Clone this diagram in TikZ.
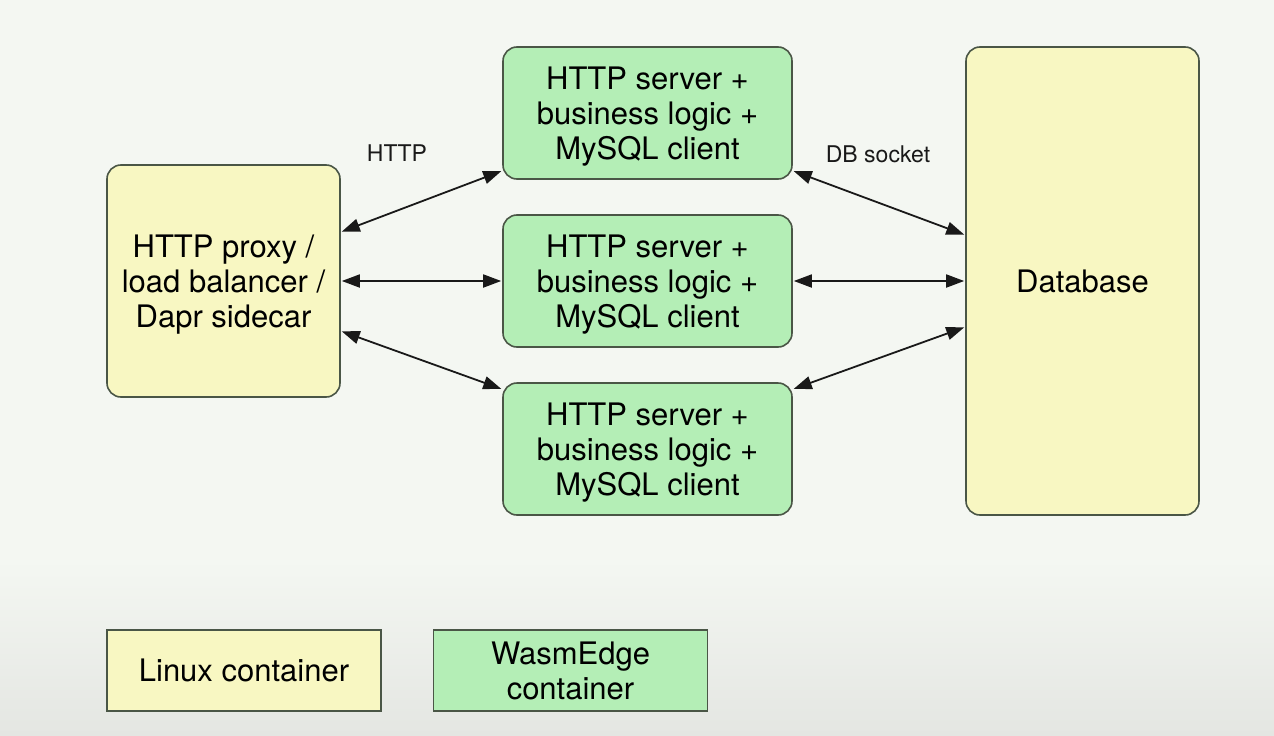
\documentclass[tikz,border=0pt]{standalone}
\usepackage{fontspec}
\setmainfont{TeX Gyre Heros}
\usetikzlibrary{arrows.meta}
\definecolor{bgtop}{HTML}{F4F7F2}
\definecolor{bgbot}{HTML}{E4E6E2}
\definecolor{ylw}{HTML}{F8F7C2}
\definecolor{grn}{HTML}{B4EEB6}
\definecolor{edge}{HTML}{4A5646}
\tikzset{
  box/.style={draw=edge, line width=1.6pt, rounded corners=14pt, inner sep=0pt, align=center,
    font=\fontsize{31}{35}\selectfont, text=black},
  ybox/.style={box, fill=ylw},
  gbox/.style={box, fill=grn, minimum width=289pt, minimum height=132pt, text depth=0pt},
  legend/.style={box, rounded corners=0pt, minimum width=274pt, minimum height=81pt, font=\fontsize{31}{35}\selectfont},
  lbl/.style={font=\fontsize{23}{26}\selectfont, text=black!90},
  conn/.style={line width=1.8pt, black!90, {Triangle[length=18pt,width=13pt]}-{Triangle[length=18pt,width=13pt]}, shorten <=1pt, shorten >=1pt}
}
\begin{document}
\begin{tikzpicture}[x=1pt,y=-1pt]
\useasboundingbox (0,0) rectangle (1274,736);
\fill[bgtop] (0,0) rectangle (1274,560);
\shade[top color=bgtop, bottom color=bgbot] (0,559.5) rectangle (1274,736);
\node[ybox, minimum width=233pt, minimum height=232pt, text depth=0pt] (proxy) at (223.5,281) {HTTP proxy /\\load balancer /\\Dapr sidecar};
\node[gbox] (g1) at (647.5,113) {HTTP server +\\business logic +\\MySQL client};
\node[gbox] (g2) at (647.5,281) {HTTP server +\\business logic +\\MySQL client};
\node[gbox] (g3) at (647.5,449) {HTTP server +\\business logic +\\MySQL client};
\node[ybox, minimum width=233pt, minimum height=468pt] (db) at (1082.5,281) {Database};
\node[legend, fill=ylw] (lin) at (244,670.5) {Linux container};
\node[legend, fill=grn] (wasm) at (570.5,670.5) {WasmEdge\\container};
\node[lbl] (lhttp) at (397,153) {HTTP};
\node[lbl] (ldb) at (878,154) {DB socket};
\draw[conn] ([yshift=49pt]proxy.east) -- ([yshift=9pt]g1.south west);
\draw[conn] (proxy.east) -- (g2.west);
\draw[conn] ([yshift=-50pt]proxy.east) -- ([yshift=-7pt]g3.north west);
\draw[conn] ([yshift=9pt]g1.south east) -- ([yshift=46pt]db.west);
\draw[conn] (g2.east) -- (db.west);
\draw[conn] ([yshift=-7pt]g3.north east) -- ([yshift=-46pt]db.west);
\end{tikzpicture}
\end{document}
